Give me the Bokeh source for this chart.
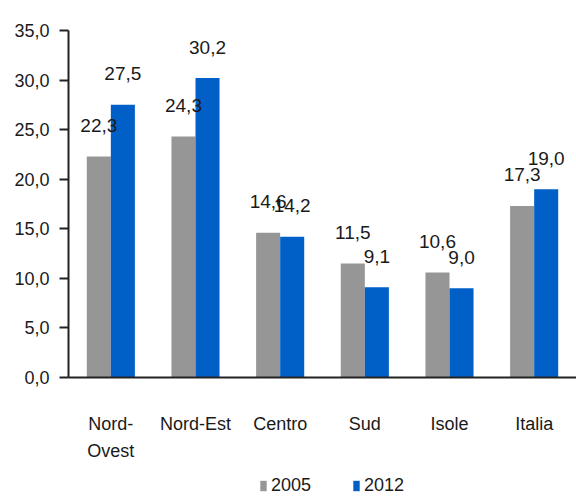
from bokeh.plotting import figure
from bokeh.layouts import column
from bokeh.models import (ColumnDataSource, Range1d, FixedTicker,
                          Legend, LegendItem, LinearAxis)
from bokeh.transform import dodge
from bokeh.core.properties import value
from bokeh.embed import file_html
from bokeh.resources import INLINE

# ---- data ----
categories = ["Nord-Ovest", "Nord-Est", "Centro", "Sud", "Isole", "Italia"]
category_labels = ["Nord-", "Nord-Est", "Centro", "Sud", "Isole", "Italia"]
category_second_line = ["Ovest", "", "", "", "", ""]
series = ["2005", "2012"]
values_2005 = [22.3, 24.3, 14.6, 11.5, 10.6, 17.3]
values_2012 = [27.5, 30.2, 14.2, 9.1, 9.0, 19.0]
y_ticks = [0, 5, 10, 15, 20, 25, 30, 35]
y_tick_labels = ["0,0", "5,0", "10,0", "15,0", "20,0", "25,0", "30,0", "35,0"]

FONT = "Liberation Sans"
GRAY = "#969696"
BLUE = "#0060C8"
TEXT = "#1a1a1a"
FS = "18px"
W = 576
H_MAIN = 463
H_LEG = 37


def it(v):
    return f"{v:.1f}".replace(".", ",")


idx = list(range(len(categories)))
src = ColumnDataSource(dict(
    x=idx,
    v2005=values_2005,
    v2012=values_2012,
    l2005=[it(v) for v in values_2005],
    l2012=[it(v) for v in values_2012],
))

p = figure(x_range=Range1d(-0.5, len(categories) - 0.5),
           y_range=Range1d(0, 35),
           width=W, height=H_MAIN,
           output_backend="svg", toolbar_location=None,
           x_axis_type=None,
           min_border_left=68, min_border_right=0, min_border_top=30,
           min_border_bottom=85)

bw = 0.284
p.vbar(x=dodge("x", -bw / 2), top="v2005", width=bw,
       source=src, fill_color=GRAY, line_color=None)
p.vbar(x=dodge("x", bw / 2), top="v2012", width=bw,
       source=src, fill_color=BLUE, line_color=None)

for col, lab, off in (("v2005", "l2005", -bw / 2), ("v2012", "l2012", bw / 2)):
    p.text(x=dodge("x", off), y=col, text=lab, source=src,
           text_align="center", text_baseline="alphabetic", y_offset=-31,
           text_font=value(FONT), text_font_size="19px", text_color=TEXT)

p.xgrid.visible = False
p.ygrid.visible = False
p.outline_line_color = None

ya = p.yaxis[0]
ya.ticker = FixedTicker(ticks=y_ticks)
ya.major_label_overrides = {t: l for t, l in zip(y_ticks, y_tick_labels)}
ya.minor_tick_line_color = None
ya.major_tick_out = 9
ya.major_tick_in = 0
ya.major_tick_line_width = 2
ya.axis_line_width = 2
ya.axis_line_color = "#222222"
ya.major_tick_line_color = "#222222"
ya.major_label_standoff = 10
ya.major_label_text_font = FONT
ya.major_label_text_font_size = FS
ya.major_label_text_color = TEXT

xa = LinearAxis(
    ticker=FixedTicker(ticks=idx),
    major_label_overrides={i: l for i, l in zip(idx, category_labels)},
    axis_line_width=2, axis_line_color="#222222",
    major_tick_line_color=None, minor_tick_line_color=None,
    major_label_standoff=30,
    major_label_text_font=FONT, major_label_text_font_size=FS,
    major_label_text_color=TEXT)
p.add_layout(xa, "below")

xa2 = LinearAxis(
    ticker=FixedTicker(ticks=idx),
    major_label_overrides={i: l for i, l in zip(idx, category_second_line)},
    axis_line_color=None, major_tick_line_color=None, minor_tick_line_color=None,
    major_tick_out=0, major_label_standoff=4,
    major_label_text_font=FONT, major_label_text_font_size=FS,
    major_label_text_color=TEXT)
p.add_layout(xa2, "below")

# legend strip below the chart (its swatches come from the same bar styles)
pl = figure(x_range=p.x_range, y_range=Range1d(100, 101),
            width=W, height=H_LEG, output_backend="svg", toolbar_location=None,
            x_axis_type=None, y_axis_type=None, min_border=0)
pl.xgrid.visible = False
pl.ygrid.visible = False
pl.outline_line_color = None
l1 = pl.vbar(x=dodge("x", -bw / 2), top="v2005", width=bw,
             source=src, fill_color=GRAY, line_color=None)
l2 = pl.vbar(x=dodge("x", bw / 2), top="v2012", width=bw,
             source=src, fill_color=BLUE, line_color=None)

legend = Legend(items=[LegendItem(label=series[0], renderers=[l1]),
                       LegendItem(label=series[1], renderers=[l2])],
                orientation="horizontal", location=(191, 4),
                glyph_width=8, glyph_height=13, label_standoff=4, spacing=41,
                label_text_font=FONT, label_text_font_size=FS,
                label_text_color=TEXT, border_line_color=None,
                background_fill_alpha=0, padding=0, margin=0)
pl.add_layout(legend)

layout = column(p, pl, spacing=0)
open("out.html", "w").write(file_html(layout, INLINE))
